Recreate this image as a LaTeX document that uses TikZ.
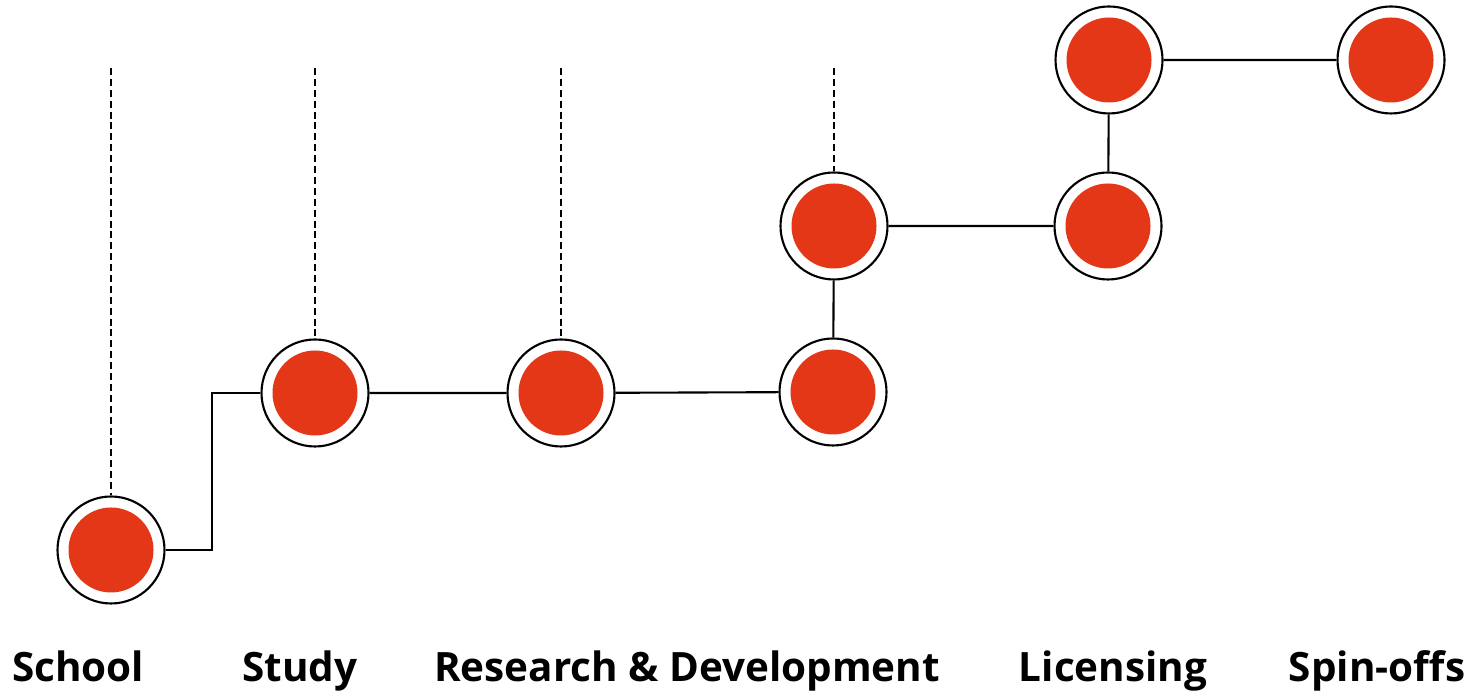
\documentclass[tikz,border=0pt]{standalone}
\usepackage{fontspec}
\setmainfont{Open Sans}
\usepackage{tikz}
\usepackage{xcolor}
\definecolor{stage-red}{HTML}{E43718}
\tikzset{
    stage-dot/.style = {draw=black, fill=white, line width=0.6pt, circle, minimum size=1.07cm, inner sep=0pt,
        path picture={\fill[stage-red] (path picture bounding box.center) circle (0.425);}},
    stage-label/.style = {anchor=base, font=\fontsize{11.5}{14}\selectfont\bfseries, inner sep=0pt},
    stage-link/.style = {draw=black, line width=0.6pt},
    stage-guide/.style = {draw=black, line width=0.6pt, dash pattern=on 2pt off 1.1pt},
}

\begin{document}
\begin{tikzpicture}
\useasboundingbox (0,0) rectangle (14.7,6.91);
\node [stage-dot] (school) at (1.11,1.41) {};
\node [stage-dot] (study) at (3.15,2.98) {};
\node [stage-dot] (research) at (5.61,2.98) {};
\node [stage-dot] (dev-low) at (8.33,2.99) {};
\node [stage-dot] (dev-high) at (8.34,4.65) {};
\node [stage-dot] (lic-low) at (11.08,4.65) {};
\node [stage-dot] (lic-high) at (11.09,6.31) {};
\node [stage-dot] (spin) at (13.91,6.31) {};
\coordinate (elbow) at (2.12,2.98);
\coordinate (school-top) at (1.11,6.23);
\coordinate (study-top) at (3.15,6.23);
\coordinate (research-top) at (5.61,6.23);
\coordinate (dev-top) at (8.34,6.23);

\draw [stage-link] (school.east) -| (elbow) -- (study.west);
\draw [stage-link] (study) -- (research) -- (dev-low) -- (dev-high) -- (lic-low) -- (lic-high) -- (spin);
\draw [stage-guide] (school-top) -- (school.north);
\draw [stage-guide] (study-top) -- (study.north);
\draw [stage-guide] (research-top) -- (research.north);
\draw [stage-guide] (dev-top) -- (dev-high.north);

\node [stage-label] (school-text) at (0.78,0.09) {School};
\node [stage-label] (study-text) at (3.00,0.09) {Study};
\node [stage-label] (research-text) at (6.87,0.09) {Research \& Development};
\node [stage-label] (lic-text) at (11.13,0.09) {Licensing};
\node [stage-label] (spin-text) at (13.77,0.09) {Spin-offs};
\end{tikzpicture}
\end{document}
